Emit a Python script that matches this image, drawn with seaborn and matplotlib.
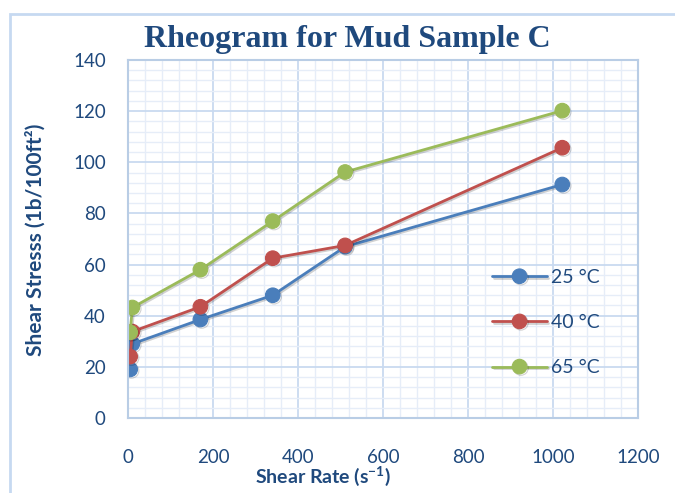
import matplotlib
matplotlib.use("Agg")
import matplotlib.pyplot as plt
import matplotlib.patheffects as pe
from matplotlib.ticker import MultipleLocator
from matplotlib.patches import Rectangle
import seaborn as sns
import pandas as pd

shear_rate = [5.11, 10.22, 170.3, 340.6, 510.9, 1021.8]
stress_25 = [19.0, 29.0, 38.5, 48.0, 67.0, 91.3]
stress_40 = [24.0, 33.8, 43.5, 62.5, 67.5, 105.7]
stress_65 = [33.5, 43.2, 58.0, 77.0, 96.2, 120.2]
series_labels = ["25 °C", "40 °C", "65 °C"]
colors = ["#4a7ebb", "#c0504d", "#9bbb59"]

rows = []
for lab, vals in zip(series_labels, [stress_25, stress_40, stress_65]):
    for x, y in zip(shear_rate, vals):
        rows.append({"rate": x, "stress": y, "temp": lab})
df = pd.DataFrame(rows)

sns.set_style("white")
plt.rcParams["font.family"] = ["Lato", "DejaVu Sans"]
plt.rcParams["mathtext.fontset"] = "custom"
plt.rcParams["mathtext.rm"] = "Lato"
plt.rcParams["mathtext.bf"] = "Lato:bold"
plt.rcParams["mathtext.it"] = "Lato:italic"

fig = plt.figure(figsize=(6.75, 4.93), dpi=100)
ax = fig.add_axes([128/675, 1-418/493, 510/675, 358/493])

fig.patches.append(Rectangle((10/675, -0.1), 1.2, (1-14/493)+0.1, transform=fig.transFigure,
                             fill=False, edgecolor="#c6d9f1", linewidth=2, zorder=-5))

sns.lineplot(data=df, x="rate", y="stress", hue="temp", palette=colors, marker="o",
             markersize=10.5, markeredgewidth=0.8, linewidth=2, ax=ax, sort=False,
             estimator=None, legend=True)

for line in ax.lines:
    line.set_markeredgecolor(line.get_color())
    line.set_path_effects([pe.SimpleLineShadow(offset=(1, -1), alpha=0.18), pe.Normal()])

ax.set_xlim(0, 1200)
ax.set_ylim(0, 140)
ax.xaxis.set_major_locator(MultipleLocator(200))
ax.yaxis.set_major_locator(MultipleLocator(20))
ax.xaxis.set_minor_locator(MultipleLocator(40))
ax.yaxis.set_minor_locator(MultipleLocator(4))
ax.grid(which="major", color="#c9daf0", linewidth=1.3, zorder=0)
ax.grid(which="minor", color="#e6edf8", linewidth=1.0, zorder=0)
ax.set_axisbelow(True)
for s in ax.spines.values():
    s.set_color("#b9cde5")
    s.set_linewidth(1.5)

tick_color = "#1f497d"
ax.tick_params(axis="both", which="both", length=0, labelsize=13.5, colors=tick_color)
ax.tick_params(axis="x", pad=22)
ax.tick_params(axis="y", pad=16)

ax.set_xlabel(r"Shear Rate (s$^{\mathbf{-1}}$)", fontsize=14, fontweight="bold", color=tick_color)
ax.xaxis.set_label_coords((323-128)/510, -(476-418)/358)
ax.xaxis.label.set_va("center")
ax.set_ylabel("Shear Stresss (1b/100ft²)", fontsize=15, fontweight="bold", color=tick_color)
ax.yaxis.set_label_coords(-(128-35)/510, (418-240)/358)
ax.yaxis.label.set_va("center")

fig.text(347/675, 1-40/493, "Rheogram for Mud Sample C", ha="center", va="center",
         fontsize=23, fontweight="bold", color="#1f497d", family=["Liberation Serif", "DejaVu Serif"])

handles, labels = ax.get_legend_handles_labels()
leg = ax.legend(handles, labels, loc="upper left", bbox_to_anchor=(0.68, 0.465), frameon=False,
                fontsize=14, handlelength=2.8, labelspacing=1.45, handletextpad=0.2)
for t in leg.get_texts():
    t.set_color(tick_color)

fig.savefig("out.png", dpi=100)
